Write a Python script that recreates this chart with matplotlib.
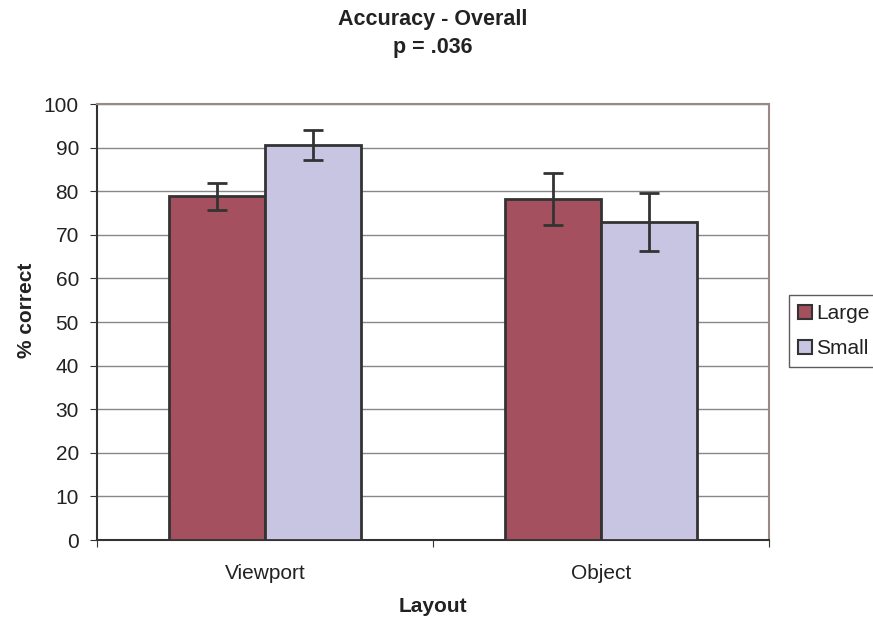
import matplotlib
matplotlib.use("Agg")
import matplotlib.pyplot as plt
import numpy as np
from matplotlib.patches import Patch

plt.rcParams['font.family'] = ['Liberation Sans', 'DejaVu Sans']

categories = ["Viewport", "Object"]
series_names = ["Large", "Small"]
large_vals = [78.8, 78.3]
small_vals = [90.6, 72.9]
large_err = [3.1, 5.95]
small_err = [3.45, 6.6]
colors = ["#A5505F", "#C8C5E2"]

fig = plt.figure(figsize=(8.73, 6.23), dpi=100)
ax = fig.add_axes([97/873, 1-540/623, (769-97)/873, (540-104)/623])

x = np.arange(len(categories))
w = 0.286
edge = "#333333"
ax.bar(x - w/2, large_vals, w, color=colors[0], edgecolor=edge, linewidth=2, zorder=3)
ax.bar(x + w/2, small_vals, w, color=colors[1], edgecolor=edge, linewidth=2, zorder=3)
ax.errorbar(x - w/2, large_vals, yerr=large_err, fmt='none', ecolor=edge, elinewidth=2, capsize=7, capthick=2, zorder=4)
ax.errorbar(x + w/2, small_vals, yerr=small_err, fmt='none', ecolor=edge, elinewidth=2, capsize=7, capthick=2, zorder=4)

fs = 15
ax.set_xlim(-0.5, 1.5)
ax.set_ylim(0, 100)
ax.set_yticks(np.arange(0, 101, 10))
ax.yaxis.grid(True, color="#888888", linewidth=1, zorder=0)
ax.set_xticks([-0.5, 0.5, 1.5])
ax.set_xticklabels([])
ax.set_xticks(x, minor=True)
ax.set_xticklabels(categories, minor=True)
ax.tick_params(axis='x', which='minor', length=0, pad=17, labelsize=fs, labelcolor="#222222")
ax.tick_params(axis='x', which='major', length=5, color="#333333")
ax.tick_params(axis='y', length=5, labelsize=fs, color="#333333", pad=8, labelcolor="#222222")

for s in ['top', 'right']:
    ax.spines[s].set_color("#9A8A86")
    ax.spines[s].set_linewidth(1.5)
for s in ['left', 'bottom']:
    ax.spines[s].set_color("#333333")
    ax.spines[s].set_linewidth(1.5)

ax.set_xlabel("Layout", fontsize=fs, fontweight='bold', color="#222222")
ax.xaxis.set_label_coords(0.5, -(597-540)/436)
ax.set_ylabel("% correct", fontsize=fs, fontweight='bold', color="#222222")
ax.yaxis.set_label_coords(-(97-36)/672, (540-310)/436)
fig.text(433/873, 1-20/623, "Accuracy - Overall", ha='center', va='center', fontsize=15.5, fontweight='bold', color="#222222")
fig.text(433/873, 1-48/623, "p = .036", ha='center', va='center', fontsize=15.5, fontweight='bold', color="#222222")

handles = [Patch(facecolor=colors[0], edgecolor=edge, linewidth=1.5),
           Patch(facecolor=colors[1], edgecolor=edge, linewidth=1.5)]
leg = fig.legend(handles, series_names, loc='upper left', bbox_to_anchor=(789/873, 1-295/623),
                 fontsize=fs, frameon=True, fancybox=False, handlelength=0.67, handleheight=0.67,
                 handletextpad=0.2, borderpad=0.45, labelspacing=0.75, borderaxespad=0)
leg.get_frame().set_edgecolor("#333333")
leg.get_frame().set_linewidth(1)
for t in leg.get_texts():
    t.set_color("#222222")

fig.savefig("out.png", dpi=100)
